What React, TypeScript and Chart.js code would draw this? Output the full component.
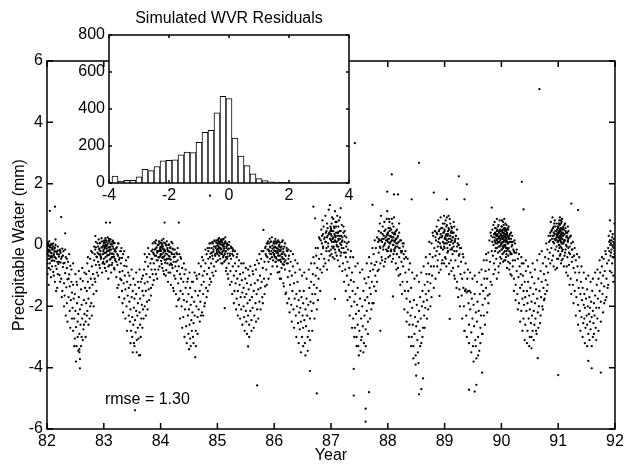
import React, { useEffect, useRef } from 'react';
import { Chart, registerables } from 'chart.js';

Chart.register(...registerables);

const FONT = "'Liberation Sans', Arial, Helvetica, sans-serif";

// Scatter data: per year, flat pairs of [hundredths of a year after Jan 1, residual in 1/100 mm]
const years = [82, 83, 84, 85, 86, 87, 88, 89, 90, 91];

const y82 = [0,-12, 0,-48, 1,8, 1,-95, 2,-22, 2,-3, 3,-130, 3,-35, 4,12, 5,-60, 5,-18, 6,-7, 7,-41, 7,-105, 8,3, 8,-26, 9,-70, 10,-14, 11,-88, 11,5, 12,-33, 13,-52, 14,-9, 14,-120, 15,18, 16,-44, 17,-23, 17,-78, 18,-140, 19,-5, 20,-62, 21,-31, 22,-98, 23,-15, 24,-57, 25,-110, 26,-39, 27,-150, 28,-72, 29,-20, 30,-125,
  31,-58, 31,-165, 32,-92, 33,-40, 34,-138, 35,-75, 35,-190, 36,-112, 37,-55, 38,-170, 39,-96, 40,-215, 40,-135, 41,-68, 42,-180, 43,-120, 44,-240, 44,-155,
  45,-205, 46,-130, 46,-280, 47,-175, 48,-240, 49,-305, 49,-160, 50,-215, 51,-268, 52,-120, 52,-330, 53,-190, 54,-250, 55,-345, 55,-225, 56,-170, 57,-290, 58,-210, 58,-372, 59,-260, 60,-145, 61,-300, 61,-195, 62,-240, 63,-118, 64,-275, 65,-180, 66,-225, 67,-140, 68,-250, 69,-95, 69,-190,
  70,-150, 71,-60, 71,-215, 72,-120, 73,-175, 74,-85, 75,-240, 75,-140, 76,-45, 77,-110, 78,-190, 79,-70, 80,-130, 80,-25, 81,-95, 82,-160, 83,-50, 84,-110,
  85,-15, 86,-65, 86,10, 87,-38, 88,-90, 89,5, 89,-25, 90,-55, 91,18, 92,-12, 93,-75, 93,-30, 94,8, 95,-45, 96,22, 97,-8, 98,-60, 99,-20];

const y83 = [0,5, 0,-28, 1,-62, 1,15, 2,-10, 3,22, 3,-40, 4,-5, 4,-85, 5,12, 6,-20, 6,-52, 7,25, 8,-8, 8,-110, 9,-33, 10,10, 10,-66, 11,-15, 12,18, 12,-45, 13,-90, 14,2, 15,-28, 15,-58, 16,14, 17,-12, 18,-75, 18,-38, 19,6, 20,-50, 21,-22, 22,-105, 23,-8, 24,-65, 25,-35, 26,-130, 27,-48, 28,-88, 29,-20, 30,-60,
  31,-115, 32,-42, 32,-150, 33,-85, 34,-30, 35,-125, 36,-175, 36,-68, 37,-100, 38,-145, 39,-50, 40,-200, 41,-120, 42,-165, 43,-90, 44,-230, 44,-140,
  45,-185, 46,-250, 47,-130, 47,-210, 48,-280, 49,-170, 50,-235, 50,-300, 51,-150, 52,-260, 53,-205, 53,-320, 54,-175, 55,-245, 56,-285, 57,-215, 57,-160, 58,-350, 59,-230, 60,-270, 60,-190, 61,-305, 62,-140, 63,-220, 64,-260, 64,-175, 65,-120, 66,-240, 67,-195, 68,-150, 69,-210, 69,-100,
  70,-165, 71,-80, 72,-200, 72,-125, 73,-55, 74,-150, 75,-95, 76,-185, 76,-40, 77,-120, 78,-70, 79,-145, 80,-30, 81,-105, 82,-60, 83,-140, 84,-20, 84,-80,
  85,-45, 86,5, 86,-95, 87,-25, 88,-60, 89,10, 90,-35, 90,-80, 91,-12, 92,15, 93,-50, 94,-20, 94,-110, 95,0, 96,-40, 97,12, 98,-70, 99,-15];

const y84 = [0,-20, 0,8, 1,-52, 2,15, 2,-30, 3,-75, 4,-5, 5,-40, 5,20, 6,-95, 7,-15, 8,-58, 8,5, 9,-28, 10,-82, 11,12, 11,-45, 12,-10, 13,-120, 14,-35, 15,2, 16,-65, 16,-22, 17,-90, 18,-48, 19,10, 20,-30, 21,-75, 22,-140, 22,-15, 23,-55, 24,-100, 25,-38, 26,-70, 27,-160, 28,-25, 29,-85, 30,-50, 31,-125, 32,-70, 33,-175, 34,-95,
  35,-40, 35,-150, 36,-110, 37,-200, 38,-75, 39,-160, 40,-120, 40,-235, 41,-180, 42,-95, 43,-210, 44,-140, 45,-265, 46,-185, 47,-120,
  48,-230, 49,-290, 49,-160, 50,-210, 51,-260, 52,-140, 52,-305, 53,-195, 54,-245, 55,-280, 55,-170, 56,-220, 57,-120, 57,-300, 58,-255, 59,-185, 60,-230, 61,-150, 62,-280, 63,-200, 64,-110, 65,-235, 66,-165,
  67,-210, 68,-95, 69,-150, 70,-185, 71,-70, 72,-130, 73,-220, 74,-100, 75,-160, 75,-50, 76,-120, 77,-85, 78,-190, 79,-60, 80,-140, 81,-30, 82,-95, 83,-150, 84,-45,
  85,-75, 86,-10, 87,-110, 87,-40, 88,5, 89,-60, 90,-25, 91,-90, 91,10, 92,-45, 93,-15, 94,-70, 95,12, 96,-35, 97,-5, 98,-55, 99,15, 99,-25];

const y85 = [0,-2, 0,-30, 1,15, 1,-12, 2,5, 3,-22, 3,22, 4,-8, 5,10, 5,-45, 6,-15, 7,18, 7,2, 8,-28, 9,8, 9,-60, 10,-5, 11,20, 11,-35, 12,-12, 13,5, 14,-50, 14,12, 15,-20, 16,-75, 17,0, 18,-38, 18,-95, 19,-15, 20,-60, 21,10, 22,-28, 23,-85, 24,-45, 25,-120, 26,-10, 27,-70, 28,-35, 29,-100, 30,-150,
  31,-60, 32,-125, 33,-85, 34,-175, 34,-40, 35,-110, 36,-150, 37,-70, 38,-195, 39,-130, 40,-95, 41,-170, 42,-210, 43,-115, 44,-155,
  45,-90, 46,-200, 46,-140, 47,-235, 48,-170, 49,-110, 50,-215, 51,-160, 51,-250, 52,-125, 53,-190, 54,-230, 55,-145, 56,-100, 56,-260, 57,-180, 58,-215, 59,-130, 60,-245, 61,-170, 62,-205, 63,-95, 64,-150, 65,-230, 66,-125, 67,-190, 68,-80, 69,-160, 70,-210, 71,-115,
  72,-145, 73,-60, 74,-185, 75,-100, 76,-140, 77,-45, 78,-120, 79,-170, 80,-75, 81,-20, 82,-110, 83,-55, 84,-135, 85,-30,
  86,-80, 87,5, 88,-40, 88,-15, 89,12, 90,-55, 91,-20, 92,20, 93,-5, 93,-45, 94,10, 95,-30, 96,25, 97,-12, 98,-50, 99,5];

const y86 = [0,-18, 0,12, 1,-40, 2,-8, 2,20, 3,-55, 4,5, 4,-25, 5,-70, 6,-12, 7,15, 7,-35, 8,-5, 9,-88, 9,-20, 10,8, 11,-48, 12,-15, 12,-110, 13,-30, 14,10, 15,-62, 16,-22, 17,-135, 17,-45, 18,-5, 19,-80, 20,-35, 21,-155, 22,-60, 23,-20, 24,-105, 25,-45, 26,-175, 27,-85, 28,-130, 29,-55, 30,-195, 31,-100,
  32,-150, 33,-70, 34,-210, 35,-125, 36,-175, 37,-90, 38,-230, 39,-160, 40,-200, 41,-120, 42,-255,
  43,-180, 44,-220, 45,-150, 45,-275, 46,-205, 47,-250, 48,-170, 49,-300, 50,-230, 51,-190, 51,-270, 52,-150, 53,-245, 54,-320, 55,-210, 56,-265, 57,-175, 58,-230, 59,-345, 60,-195, 61,-280, 62,-140, 63,-240, 64,-185, 65,-120, 66,-215, 67,-160,
  68,-95, 69,-190, 70,-130, 71,-60, 72,-160, 73,-100, 74,-35, 75,-140, 76,-75, 77,-10, 78,-110, 79,-45, 80,20, 81,-80,
  82,15, 83,-30, 83,50, 84,5, 85,80, 86,-10, 86,35, 87,60, 88,-45, 89,25, 90,95, 91,10, 92,45, 92,-20, 93,70, 94,30, 95,-5, 96,115, 97,40, 98,-35, 99,60, 99,20];

const y87 = [0,35, 0,-15, 1,70, 2,10, 2,45, 3,-40, 4,85, 4,25, 5,-5, 6,55, 7,15, 7,110, 8,-25, 9,40, 10,75, 10,0, 11,30, 12,-50, 13,60, 13,20, 14,-15, 15,45, 16,90, 16,5, 17,-35, 18,30, 19,65, 19,-10, 20,15, 21,-60, 22,40, 23,-25, 24,10, 25,-80, 26,-40, 27,25, 28,-100, 29,-55,
  30,-15, 31,-130, 32,-75, 33,-170, 34,-40, 35,-115, 36,-200, 37,-90, 38,-150, 39,-240, 40,-120, 41,-185,
  42,-270, 43,-160, 44,-225, 45,-300, 46,-195, 47,-140, 47,-260, 48,-330, 49,-215, 50,-280, 51,-175, 52,-345, 53,-240, 54,-300, 55,-200, 56,-265, 57,-150, 58,-320, 59,-230, 60,-180, 61,-275, 62,-125, 63,-215, 64,-170, 65,-250, 66,-105, 67,-190, 68,-140, 69,-85,
  70,-160, 71,-60, 72,-120, 73,-190, 74,-80, 75,-30, 76,-135, 77,-65, 78,-100, 79,-10, 80,-55, 81,25, 82,-85, 83,10,
  84,45, 84,-25, 85,15, 86,70, 87,-10, 88,40, 88,95, 89,-40, 90,20, 91,60, 92,-15, 93,30, 94,75, 94,0, 95,-55, 96,50, 97,15, 98,85, 99,-20, 99,35];

const y88 = [0,20, 0,-20, 1,55, 2,-5, 3,30, 3,75, 4,-35, 5,10, 6,50, 6,-15, 7,85, 8,25, 9,-45, 10,0, 10,60, 11,35, 12,-20, 13,15, 14,45, 14,-60, 15,5, 16,-30, 17,25, 18,-75, 19,10, 20,-40, 20,40, 21,-10, 22,-95, 23,15, 24,-55, 25,-20, 26,-120, 27,-70, 28,5, 29,-45, 30,-150, 31,-90,
  32,-40, 33,-175, 34,-120, 35,-220, 36,-150, 37,-80, 38,-260, 39,-185, 40,-230, 41,-140,
  42,-300, 43,-205, 44,-260, 45,-330, 46,-180, 47,-290, 48,-235, 49,-360, 50,-265, 51,-195, 52,-310, 53,-250, 54,-385, 55,-215, 56,-280, 57,-170, 58,-240, 59,-320, 60,-200, 61,-150, 62,-270, 63,-185, 64,-230, 65,-130, 66,-205, 67,-160, 68,-95, 69,-180,
  70,-120, 71,-60, 72,-150, 73,-95, 74,-30, 75,-125, 76,-70, 77,5, 78,-100, 79,-40, 80,30, 81,-70, 82,-10, 83,45, 84,-35,
  85,15, 86,60, 86,-20, 87,35, 88,-50, 89,80, 89,10, 90,45, 91,-30, 92,25, 93,90, 93,-5, 94,55, 95,-60, 96,30, 97,70, 97,-15, 98,40, 99,5, 99,95];

const y89 = [0,50, 0,-10, 1,25, 2,80, 2,-45, 3,35, 4,5, 4,65, 5,-25, 6,45, 7,95, 7,10, 8,-60, 9,30, 10,70, 10,-15, 11,40, 12,-85, 13,15, 13,55, 14,-30, 15,25, 16,-5, 17,60, 17,-100, 18,10, 19,-50, 20,30, 21,-20, 22,-120, 23,5, 24,-70, 25,-35, 26,-145, 27,-10, 28,-95,
  29,-55, 30,-165, 31,-110, 32,-30, 33,-140, 34,-200, 35,-90, 36,-150, 37,-145, 38,-230, 39,-155, 40,-110, 41,-150, 42,-190, 43,-260,
  44,-150, 45,-210, 46,-155, 47,-285, 48,-175, 49,-240, 50,-330, 51,-195, 52,-265, 53,-160, 54,-310, 55,-220, 56,-370, 57,-250, 58,-185, 59,-300, 60,-215, 61,-345, 62,-160, 63,-270, 64,-230, 65,-130, 66,-290, 67,-195, 68,-150, 69,-230, 70,-110, 71,-175,
  72,-85, 73,-140, 74,-50, 75,-110, 76,-165, 77,-25, 78,-80, 79,15, 80,-55, 81,-120, 82,30, 83,-20,
  84,50, 84,10, 85,-35, 85,25, 86,65, 86,0, 87,35, 87,-60, 88,15, 88,75, 89,-20, 89,40, 90,5, 90,55, 91,-45, 91,20, 92,85, 92,-10, 93,30, 93,50, 94,-25, 94,10, 95,65, 95,-70, 96,25, 96,40, 97,-5, 97,80, 98,15, 98,-40, 99,45, 99,0];

const y90 = [0,30, 0,-15, 0,60, 1,5, 1,45, 2,-30, 2,20, 3,75, 3,-5, 4,40, 4,10, 5,-50, 5,55, 6,25, 6,-20, 7,0, 7,70, 8,35, 8,-40, 9,15, 9,50, 10,-10, 10,-75, 11,30, 12,5, 12,-35, 13,60, 14,-20, 14,20, 15,-60, 16,10, 16,-95, 17,40, 18,-30, 19,0, 20,-70, 21,-15, 22,-110, 23,15, 24,-50, 25,-130, 26,-25, 27,-85, 28,-160, 29,-45, 30,-105, 31,-190, 32,-70, 33,-140,
  34,-95, 35,-215, 36,-130, 36,-60, 37,-175, 38,-100, 39,-240, 39,-150, 40,-195, 41,-120, 42,-260, 42,-170, 43,-85, 44,-215, 45,-150, 46,-280, 46,-190, 47,-120, 48,-240, 49,-165, 50,-300, 50,-210, 51,-140, 52,-255, 53,-185, 54,-105, 54,-230, 55,-280, 56,-160, 57,-215, 58,-125, 58,-260, 59,-190, 60,-240, 61,-145, 62,-290, 63,-175, 64,-220, 65,-110, 66,-200, 67,-150, 68,-255, 69,-85, 70,-170, 71,-120, 72,-200, 73,-60, 74,-140,
  75,-95, 76,-175, 77,-40, 78,-115, 79,-70, 80,-150, 81,-15, 82,-90, 83,-45, 84,10,
  85,-25, 86,40, 86,15, 87,75, 88,-10, 89,50, 89,20, 90,90, 91,-35, 92,30, 92,60, 93,5, 94,80, 95,-15, 95,45, 96,20, 97,70, 98,-45, 98,35, 99,10, 99,60];

const y91 = [0,25, 0,-20, 0,60, 1,45, 1,0, 2,80, 2,15, 3,-35, 3,50, 4,30, 4,-5, 5,70, 5,10, 6,-50, 6,40, 7,85, 7,20, 8,-15, 8,55, 9,5, 10,35, 10,-70, 11,65, 11,15, 12,-25, 13,45, 14,0, 14,-90, 15,30, 16,-40, 17,15, 17,60, 18,-10, 19,-65, 20,25, 21,-30, 22,-110, 23,5, 24,-55, 25,-15, 26,-130, 27,-75, 28,-35, 29,-150, 30,-90,
  31,-50, 32,-170, 33,-115, 34,-70, 35,-195, 36,-140, 37,-90, 38,-215, 39,-160, 40,-120, 41,-235, 42,-180, 43,-140, 44,-255,
  45,-195, 46,-160, 46,-240, 47,-205, 48,-270, 49,-175, 50,-230, 51,-145, 51,-260, 52,-200, 53,-290, 54,-225, 55,-170, 56,-250, 56,-205, 57,-275, 58,-185, 59,-235, 60,-150, 61,-215, 61,-300, 62,-255, 63,-190, 64,-230, 65,-165, 66,-270, 67,-205, 68,-130, 69,-240, 70,-175, 71,-110, 72,-205, 73,-150, 74,-90, 75,-185, 76,-125, 77,-70,
  78,-160, 79,-100, 80,-45, 81,-135, 82,-85, 83,-180, 84,-30, 85,-110, 86,-60, 87,-140,
  88,-10, 89,30, 89,-50, 90,10, 91,-85, 92,45, 93,-25, 94,15, 95,-60, 96,35, 96,-5, 97,-100, 98,20, 98,-40, 99,5, 99,70];

// Second layer per year: the looser points that widen each seasonal band
const e82 = [0,-30, 1,-60, 2,-15, 3,-75, 4,-45, 5,-5, 6,-38, 6,-80, 8,-52, 9,-10, 10,-40, 12,-100, 13,-20, 15,-68, 16,-150, 18,-30, 19,-95, 21,-55, 23,-120, 24,-25, 26,-170, 28,-35, 30,-200, 32,-15, 33,-230, 35,-45, 36,-250, 38,-110, 39,-30, 41,-270, 43,-80, 46,-60, 48,-330, 50,-95, 51,-380, 53,-130, 54,-300, 56,-85, 57,-350, 59,-110, 60,-330, 62,-75, 63,-310, 65,-260, 66,-90, 68,-300, 70,-230, 72,-40, 73,-260, 76,-200, 78,-20, 79,-230, 82,-200, 83,-5, 85,-120, 87,-150, 90,-100, 92,-65, 94,-35, 97,-90, 99,-55];
const e83 = [0,-45, 1,-5, 2,-75, 3,8, 4,-25, 5,-55, 6,0, 7,-32, 8,-70, 9,15, 10,-20, 11,-48, 12,-5, 13,-28, 14,-65, 16,-40, 17,5, 19,-80, 20,-15, 22,-55, 24,-140, 25,5, 27,-170, 29,-110, 31,-10, 33,-190, 34,-220, 36,-20, 38,-240, 40,-70, 41,-280, 43,-40, 45,-100, 47,-320, 49,-80, 51,-350, 52,-110, 54,-330, 55,-130, 57,-90, 58,-310, 60,-120, 62,-360, 63,-80, 65,-300, 67,-110, 68,-270, 70,-240, 72,-30, 74,-230, 77,-210, 78,-10, 80,-180, 83,-165, 86,-130, 88,-115, 92,-95, 96,-80, 98,5];
const e84 = [0,-35, 1,-8, 2,-62, 3,0, 4,-40, 5,-85, 6,-18, 7,-48, 9,-100, 10,0, 12,-60, 13,-20, 14,-90, 15,-45, 17,-10, 18,-130, 20,-65, 21,5, 23,-150, 24,-30, 26,-110, 28,-200, 30,-10, 31,-180, 33,-30, 34,-240, 36,-45, 38,-270, 41,-60, 42,-300, 44,-80, 46,-320, 48,-110, 50,-340, 51,-90, 53,-330, 55,-120, 58,-320, 60,-90, 62,-330, 63,-100, 65,-290, 67,-60, 69,-250, 71,-230, 73,-40, 75,-230, 77,-200, 79,-15, 81,-170, 83,-10, 86,-130, 89,-120, 93,-100, 97,-85];
const e85 = [0,-18, 1,-50, 2,20, 3,-35, 4,8, 5,-12, 6,-28, 7,-60, 8,12, 9,-22, 10,-40, 11,2, 12,-55, 13,-30, 14,25, 15,-85, 16,-5, 17,-45, 19,-110, 20,0, 22,-130, 24,-10, 26,-160, 27,-20, 29,-190, 31,-20, 33,-210, 35,-30, 36,-230, 38,-50, 40,-240, 42,-60, 44,-260, 46,-60, 48,-280, 50,-75, 52,-290, 54,-80, 56,-300, 58,-70, 60,-280, 62,-85, 64,-270, 66,-65, 68,-250, 70,-50, 72,-240, 74,-30, 76,-210, 78,-20, 80,-190, 83,-160, 85,-5, 87,-130, 90,-110, 94,-95, 97,-70];
const e86 = [0,-35, 1,-5, 2,-55, 3,12, 4,-45, 5,-20, 6,-90, 7,-28, 8,10, 9,-50, 10,-110, 11,-8, 13,-75, 14,-40, 15,15, 16,-125, 18,-55, 19,5, 20,-160, 22,-10, 23,-190, 25,-15, 27,-220, 29,-20, 31,-250, 33,-30, 35,-270, 37,-50, 39,-300, 41,-60, 43,-320, 45,-80, 47,-350, 49,-100, 51,-330, 53,-90, 55,-360, 57,-110, 59,-300, 61,-80, 63,-310, 65,-60, 67,-280, 69,-40, 71,-240, 73,-10, 75,-210, 77,-180, 79,25, 81,-150, 84,-90, 87,-70, 90,-60, 93,-80, 96,-50, 98,130];
const e87 = [0,55, 1,-30, 2,90, 3,20, 4,-10, 5,60, 6,-45, 7,30, 8,75, 9,10, 10,-35, 11,95, 12,40, 13,-5, 14,80, 15,-70, 16,30, 17,120, 18,-25, 19,10, 20,-85, 22,60, 23,-120, 24,45, 26,-150, 27,-5, 29,-180, 31,10, 33,-230, 35,-20, 37,-270, 39,-40, 41,-300, 43,-70, 45,-330, 47,-60, 49,-360, 51,-90, 53,-310, 55,-80, 57,-350, 59,-110, 61,-330, 63,-60, 65,-290, 67,-40, 69,-240, 71,-210, 73,-10, 75,-190, 77,15, 79,-150, 81,-120, 84,-80, 87,-60, 90,-50, 93,-70, 96,-45, 99,110];
const e88 = [0,40, 1,-40, 2,85, 3,5, 4,55, 5,-20, 6,25, 7,-55, 8,70, 9,15, 10,-30, 11,90, 12,40, 13,-10, 14,20, 15,-80, 16,50, 17,-5, 19,-100, 20,70, 22,-130, 23,-20, 25,-160, 27,-5, 29,-210, 31,-20, 33,-250, 35,-45, 37,-300, 39,-60, 41,-330, 43,-90, 45,-370, 47,-110, 49,-390, 51,-100, 53,-350, 55,-120, 57,-330, 59,-90, 61,-300, 63,-70, 65,-270, 67,-40, 69,-240, 71,-210, 73,10, 75,-200, 77,-170, 79,40, 81,-140, 84,-110, 87,-70, 90,-90, 93,-80, 96,-50, 99,-60];
const e89 = [0,70, 1,-40, 2,20, 3,-70, 4,90, 5,30, 6,-20, 7,55, 8,-95, 9,85, 10,20, 11,-50, 12,60, 13,-10, 14,40, 15,-75, 16,75, 18,-110, 19,20, 21,-140, 22,50, 24,-170, 25,0, 27,-200, 29,-10, 31,-240, 33,-40, 35,-280, 37,-60, 39,-300, 41,-80, 43,-320, 45,-90, 47,-350, 49,-110, 51,-380, 53,-100, 55,-330, 57,-120, 59,-360, 61,-90, 63,-320, 65,-80, 67,-290, 69,-50, 71,-260, 73,-30, 75,-220, 77,-190, 79,-160, 81,40, 83,-130, 86,-95, 89,-80, 92,-110, 95,-90, 98,-60];
const e90 = [0,45, 0,-45, 1,20, 1,80, 2,-5, 2,50, 3,30, 3,-55, 4,65, 4,-25, 5,15, 5,85, 6,-5, 6,50, 7,45, 7,-50, 8,-10, 8,20, 9,65, 9,-30, 10,40, 11,-15, 11,10, 12,-55, 12,50, 13,25, 14,-80, 15,35, 16,-30, 17,10, 18,-100, 19,30, 20,-50, 22,-150, 23,-25, 25,-180, 27,-15, 29,-210, 31,-30, 33,-250, 35,-40, 37,-280, 39,-60, 41,-310, 43,-50, 45,-320, 47,-70, 49,-330, 51,-90, 53,-300, 55,-60, 57,-310, 59,-80, 61,-280, 63,-50, 65,-270, 67,-30, 69,-230, 71,-20, 73,-210, 75,-180, 77,-160, 79,5, 81,-130, 83,30, 86,-60, 89,-50, 92,-70, 95,-80, 98,-75];
const e91 = [0,40, 0,-45, 1,70, 1,25, 2,-10, 2,45, 3,90, 3,20, 4,-30, 4,55, 5,35, 5,-60, 6,75, 6,5, 7,-20, 7,50, 8,30, 8,-45, 9,60, 10,15, 11,-35, 12,70, 13,-15, 14,40, 15,-70, 16,25, 17,-100, 18,45, 19,-25, 20,-130, 22,30, 23,-160, 25,-40, 27,-190, 29,-10, 31,-230, 33,-30, 35,-260, 37,-40, 39,-280, 41,-70, 43,-300, 45,-90, 47,-320, 49,-110, 51,-330, 53,-100, 55,-310, 57,-120, 59,-330, 61,-110, 63,-290, 65,-90, 67,-310, 69,-80, 71,-280, 73,-50, 75,-250, 77,-40, 79,-220, 81,-190, 83,-20, 85,-170, 88,-130, 91,80, 94,-90, 97,-120, 99,-20];

// Third layer per year: the dense winter clusters near zero
const c82 = [0,-10, 1,-30, 2,5, 3,-20, 4,-45, 5,-8, 6,-25, 7,2, 8,-35, 9,-15, 10,-50, 11,-5, 12,-28, 13,-12, 14,-40, 15,0, 16,-22, 18,-55, 19,-18, 21,-38, 23,-20, 25,-45, 27,-12, 29,-60, 84,-30, 86,-8, 88,-40, 90,-5, 91,-30, 92,-15, 93,5, 94,-20, 95,-40, 96,-8, 97,12, 98,-30, 99,-2];
const c83 = [0,-15, 0,10, 1,-5, 2,-25, 3,0, 4,15, 5,-12, 6,-35, 7,5, 8,-18, 9,20, 10,-8, 11,-28, 12,3, 13,-15, 14,-40, 15,10, 16,-5, 17,-30, 18,8, 19,-20, 20,-45, 22,-10, 24,-30, 26,5, 28,-42, 30,-20, 84,-45, 86,-15, 88,-30, 90,-15, 91,5, 92,-35, 93,-8, 94,-25, 95,-50, 96,0, 97,-20, 98,-40, 99,-10];
const c84 = [0,-5, 0,-30, 1,-18, 2,5, 3,-42, 4,-12, 5,-25, 6,8, 7,-35, 8,-20, 9,-50, 10,-2, 11,-30, 12,-15, 13,-45, 14,0, 15,-22, 16,-38, 17,-8, 18,-60, 19,-25, 21,-12, 23,-40, 25,-15, 27,-55, 29,-30, 84,-20, 86,5, 88,-28, 90,-10, 91,-35, 92,5, 93,-22, 94,-5, 95,15, 96,-30, 97,-10, 98,8, 99,-18];
const c85 = [0,5, 0,-15, 1,-2, 2,12, 3,-8, 4,-25, 5,2, 6,15, 7,-12, 8,-30, 9,0, 10,18, 11,-18, 12,-5, 13,8, 14,-22, 15,-40, 16,-10, 17,5, 18,-28, 20,-12, 22,-35, 24,-5, 26,-30, 28,-15, 84,-10, 86,-35, 88,5, 90,-15, 91,5, 92,-28, 93,-8, 94,12, 95,-20, 96,-40, 97,-2, 98,-25, 99,10];
const c86 = [0,-8, 0,-30, 1,5, 2,-20, 3,-40, 4,-10, 5,8, 6,-25, 7,-50, 8,-15, 9,0, 10,-35, 11,-20, 12,-55, 13,-5, 14,-28, 15,-45, 16,-12, 17,-65, 18,-30, 20,-50, 22,-18, 24,-60, 26,-35, 84,30, 86,-5, 88,20, 90,10, 91,40, 92,-10, 93,25, 94,55, 95,5, 96,35, 97,-20, 98,20, 99,45];
const c87 = [0,15, 0,50, 1,30, 2,-5, 3,20, 4,45, 5,10, 6,35, 7,-15, 8,25, 9,60, 10,10, 11,-5, 12,40, 13,15, 14,30, 15,-20, 16,20, 17,45, 18,0, 20,25, 22,-10, 24,30, 26,-25, 28,5, 84,20, 86,-5, 88,15, 90,10, 91,35, 92,-5, 93,20, 94,45, 95,5, 96,25, 97,-15, 98,30, 99,15];
const c88 = [0,10, 0,35, 1,-10, 2,20, 3,45, 4,5, 5,30, 6,-20, 7,15, 8,40, 9,0, 10,25, 11,-15, 12,10, 13,35, 14,-5, 15,20, 16,-30, 17,5, 18,30, 20,-10, 22,15, 24,-25, 26,5, 28,-30, 84,25, 86,40, 88,-5, 90,20, 91,50, 92,5, 93,35, 94,-10, 95,25, 96,55, 97,10, 98,40, 99,-5];
const c89 = [0,20, 0,45, 1,5, 2,30, 3,60, 4,15, 5,-10, 6,35, 7,20, 8,50, 9,0, 10,30, 11,10, 12,45, 13,-15, 14,25, 15,5, 16,40, 17,-20, 18,15, 20,30, 22,-5, 24,20, 26,-30, 88,25, 89,55, 89,10, 90,35, 90,-10, 91,30, 92,15, 92,45, 93,5, 93,35, 94,20, 94,60, 95,-5, 95,25, 96,45, 96,10, 97,30, 97,-20, 98,50, 98,20, 99,5, 99,35];
const c90 = [0,25, 0,5, 0,45, 1,-15, 1,30, 1,60, 2,10, 2,40, 3,20, 3,-10, 4,50, 4,25, 5,0, 5,35, 6,15, 6,55, 7,-5, 7,30, 8,45, 8,10, 9,25, 9,-20, 10,35, 11,5, 11,55, 12,20, 13,-10, 14,30, 15,10, 16,-25, 17,20, 18,-5, 20,10, 22,-20, 24,5, 86,30, 88,45, 90,30, 91,55, 91,10, 92,40, 93,20, 93,70, 94,35, 95,15, 95,60, 96,45, 97,25, 97,-5, 98,50, 98,30, 99,15, 99,40];
const c91 = [0,35, 0,10, 0,55, 1,25, 1,70, 2,40, 2,0, 3,30, 3,65, 4,15, 4,45, 5,25, 5,80, 6,35, 6,-10, 7,55, 7,20, 8,40, 8,5, 9,30, 10,50, 10,10, 11,35, 12,15, 13,55, 14,25, 15,-5, 16,40, 17,10, 18,20, 20,-5, 22,30, 24,-15, 26,10, 90,-20, 91,15, 92,-35, 93,5, 94,-15, 95,25, 96,-40, 97,10, 98,-10, 99,-30];

const yearSeries = [y82, y83, y84, y85, y86, y87, y88, y89, y90, y91];
const extraSeries = [e82, e83, e84, e85, e86, e87, e88, e89, e90, e91];
const clusterSeries = [c82, c83, c84, c85, c86, c87, c88, c89, c90, c91];

// Isolated points: [year, mm]
const outliers = [
  [82.05, 1.11], [82.14, 1.25], [82.25, 0.91], [82.32, 0.38], [82.85, 0.29], [83.04, 0.73], [83.11, 0.73],
  [84.07, 0.73], [84.32, 0.73], [84.87, 1.61], [85.81, 0.49], [86.69, 1.25], [86.72, 0.87], [87.42, 3.32],
  [90.67, 5.08], [88.55, 2.68], [88.07, 2.30], [89.25, 2.24], [89.39, 1.98], [90.36, 2.06], [87.99, 1.74],
  [88.11, 1.65], [88.18, 1.65], [88.42, 1.49], [88.81, 1.71], [89.04, 1.49], [89.35, 1.49], [91.23, 1.35],
  [91.35, 1.14], [87.73, 1.31], [89.83, 1.22], [90.39, 1.16],
  [82.58, -4.02], [82.57, -3.40], [83.55, -5.39], [83.64, -3.59], [84.61, -3.66], [85.13, -2.06], [85.54, -3.31],
  [85.70, -4.58], [86.75, -4.84], [86.63, -4.11], [87.40, -4.04], [87.40, -4.91], [87.67, -4.80], [87.61, -5.34],
  [87.61, -5.76], [88.50, -4.26], [88.62, -4.35], [88.59, -4.70], [88.55, -4.87], [89.43, -4.72], [89.53, -4.78],
  [89.56, -4.56], [89.66, -4.16], [90.64, -3.69], [91.00, -4.24], [91.53, -3.78], [91.59, -4.02], [91.75, -4.16],
  [89.09, -2.41], [89.35, -2.80], [90.53, -3.37], [87.87, -2.80], [87.07, -1.76], [88.91, -1.66], [88.09, -1.68],
];

// Inset histogram
const histCenters = [-3.8, -3.6, -3.4, -3.2, -3.0, -2.8, -2.6, -2.4, -2.2, -2.0, -1.8, -1.6, -1.4, -1.2, -1.0, -0.8, -0.6, -0.4, -0.2, 0.0,
  0.2, 0.4, 0.6, 0.8, 1.0, 1.2, 1.4, 1.6, 1.8, 2.0, 2.2, 2.4, 2.6, 2.8, 3.0, 3.2, 3.4, 3.6, 3.8];
const histCounts = [38, 11, 15, 15, 34, 74, 67, 89, 120, 122, 125, 152, 167, 165, 220, 274, 285, 379, 468, 457,
  243, 145, 94, 50, 24, 13, 7, 4, 3, 2, 1, 1, 1, 0, 1, 0, 1, 0, 0];

const mainXTicks = [82, 83, 84, 85, 86, 87, 88, 89, 90, 91, 92];
const mainYTicks = [-6, -4, -2, 0, 2, 4, 6];
const insetXTicks = [-4, -2, 0, 2, 4];
const insetYTicks = [0, 200, 400, 600, 800];

const font = { family: FONT, size: 16, weight: 'normal' as const };

function boxTicks(id: string, xt: number[], yt: number[], len: number, lw: number, fillWhite: boolean) {
  return {
    id,
    beforeDraw(chart: any) {
      if (!fillWhite) return;
      const { ctx, chartArea: a } = chart;
      ctx.save();
      ctx.fillStyle = '#fff';
      ctx.fillRect(a.left, a.top, a.right - a.left, a.bottom - a.top);
      ctx.restore();
    },
    afterDraw(chart: any) {
      const { ctx, chartArea: a, scales } = chart;
      const x = scales.x, y = scales.y;
      ctx.save();
      ctx.strokeStyle = '#000';
      ctx.lineWidth = lw;
      ctx.strokeRect(a.left, a.top, a.right - a.left, a.bottom - a.top);
      ctx.beginPath();
      for (const v of xt) {
        const p = x.getPixelForValue(v);
        ctx.moveTo(p, a.bottom); ctx.lineTo(p, a.bottom - len);
        ctx.moveTo(p, a.top); ctx.lineTo(p, a.top + len);
      }
      for (const v of yt) {
        const p = y.getPixelForValue(v);
        ctx.moveTo(a.left, p); ctx.lineTo(a.left + len, p);
        ctx.moveTo(a.right, p); ctx.lineTo(a.right - len, p);
      }
      ctx.stroke();
      ctx.restore();
    },
  };
}

const rmseLabel = {
  id: 'rmseLabel',
  afterDatasetsDraw(chart: any) {
    const { ctx, scales } = chart;
    ctx.save();
    ctx.fillStyle = '#000';
    ctx.font = `16px ${FONT}`;
    ctx.textAlign = 'left';
    ctx.textBaseline = 'middle';
    ctx.fillText('rmse = 1.30', scales.x.getPixelForValue(83.02), scales.y.getPixelForValue(-5.05));
    ctx.restore();
  },
};

export default function App() {
  const mainRef = useRef<HTMLCanvasElement>(null);
  const insetRef = useRef<HTMLCanvasElement>(null);

  useEffect(() => {
    const pts: { x: number; y: number }[] = [];
    const addYears = (series: number[][]) => series.forEach((arr, i) => {
      for (let k = 0; k < arr.length; k += 2) {
        pts.push({ x: years[i] + arr[k] / 100, y: arr[k + 1] / 100 });
      }
    });
    addYears(yearSeries);
    addYears(extraSeries);
    addYears(clusterSeries);
    outliers.forEach(([x, y]) => pts.push({ x, y }));

    const main = new Chart(mainRef.current!, {
      type: 'scatter',
      data: {
        datasets: [{
          data: pts,
          pointRadius: 1.15,
          pointHoverRadius: 1.15,
          pointBackgroundColor: '#000',
          pointBorderWidth: 0,
          showLine: false,
        }],
      },
      options: {
        responsive: false,
        animation: false,
        events: [],
        layout: { padding: { top: 61, right: 18, left: 0, bottom: 0 } },
        plugins: { legend: { display: false }, tooltip: { enabled: false } },
        scales: {
          x: {
            type: 'linear', min: 82, max: 92,
            afterBuildTicks: (s: any) => { s.ticks = mainXTicks.map((v) => ({ value: v })); },
            afterFit: (s: any) => { s.height = 36; },
            ticks: { font, color: '#000', padding: 3, autoSkip: false, maxRotation: 0, callback: (v: any) => String(v) },
            grid: { display: false, drawTicks: false },
            border: { display: false },
            title: { display: true, text: 'Year', font, color: '#000', padding: { top: 0, bottom: 0 } },
          },
          y: {
            type: 'linear', min: -6, max: 6,
            afterBuildTicks: (s: any) => { s.ticks = mainYTicks.map((v) => ({ value: v })); },
            afterFit: (s: any) => { s.width = 47; },
            ticks: { font, color: '#000', padding: 4, autoSkip: false, callback: (v: any) => String(v) },
            grid: { display: false, drawTicks: false },
            border: { display: false },
            title: { display: true, text: 'Precipitable Water (mm)', font, color: '#000', padding: { top: 9.5, bottom: 0 } },
          },
        },
      } as any,
      plugins: [boxTicks('mainBox', mainXTicks, mainYTicks, 6, 1.5, false), rmseLabel],
    });

    const inset = new Chart(insetRef.current!, {
      type: 'bar',
      data: {
        datasets: [{
          data: histCenters.map((c, i) => ({ x: c, y: histCounts[i] })),
          backgroundColor: '#fff',
          borderColor: '#000',
          borderWidth: 1,
          barPercentage: 1,
          categoryPercentage: 1,
        }],
      },
      options: {
        responsive: false,
        animation: false,
        events: [],
        layout: { padding: { top: 0, right: 52, left: 0, bottom: 0 } },
        plugins: {
          legend: { display: false },
          tooltip: { enabled: false },
          title: { display: true, fullSize: false, text: 'Simulated WVR Residuals', font, color: '#000', padding: { top: 9, bottom: 6.8 } },
        },
        scales: {
          x: {
            type: 'linear', min: -4, max: 4, offset: false,
            afterBuildTicks: (s: any) => { s.ticks = insetXTicks.map((v) => ({ value: v })); },
            afterFit: (s: any) => { s.height = 27; },
            ticks: { font, color: '#000', padding: 3, autoSkip: false, maxRotation: 0, callback: (v: any) => String(v) },
            grid: { display: false, drawTicks: false },
            border: { display: false },
          },
          y: {
            type: 'linear', min: 0, max: 800,
            afterBuildTicks: (s: any) => { s.ticks = insetYTicks.map((v) => ({ value: v })); },
            afterFit: (s: any) => { s.width = 52; },
            ticks: { font, color: '#000', padding: 4, autoSkip: false, callback: (v: any) => String(v) },
            grid: { display: false, drawTicks: false },
            border: { display: false },
          },
        },
      } as any,
      plugins: [boxTicks('insetBox', insetXTicks, insetYTicks, 3, 1.5, true)],
    });

    return () => { main.destroy(); inset.destroy(); };
  }, []);

  return (
    <div style={{ position: 'fixed', left: 0, top: 0, width: 633, height: 465, background: '#fff' }}>
      <canvas ref={mainRef} width={633} height={465} style={{ position: 'absolute', left: 0, top: 0 }} />
      <canvas ref={insetRef} width={344} height={210} style={{ position: 'absolute', left: 57, top: 0 }} />
    </div>
  );
}
